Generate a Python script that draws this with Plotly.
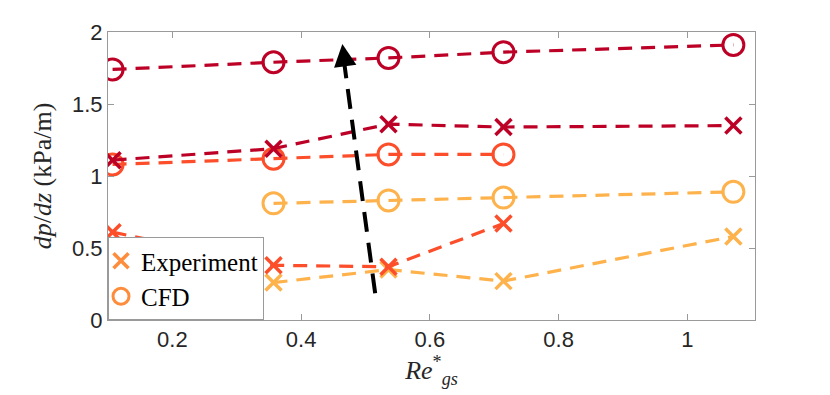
import plotly.graph_objects as go

# Re*_gs values where pressure gradient was measured / computed
re_gs = [0.1071, 0.3571, 0.5357, 0.7143, 1.0714]

# dark red set
exp_dark = [1.11, 1.19, 1.36, 1.34, 1.35]
cfd_dark = [1.74, 1.79, 1.82, 1.86, 1.91]

# orange-red set (no point at the highest Re)
exp_mid = [0.61, 0.38, 0.37, 0.67, None]
cfd_mid = [1.08, 1.12, 1.15, 1.15, None]

# light orange set (no point at the lowest Re)
exp_light = [None, 0.26, 0.35, 0.27, 0.58]
cfd_light = [None, 0.81, 0.83, 0.85, 0.89]

y_ticks = [0, 0.5, 1, 1.5, 2]
y_tick_labels = ['0', '0.5', '1', '1.5', '2']
x_ticks = [0.2, 0.4, 0.6, 0.8, 1.0]
x_tick_labels = ['0.2', '0.4', '0.6', '0.8', '1']

# trend arrow (tail -> tip)
arrow_tail = (0.515, 0.186)
arrow_tip = (0.464, 1.917)

DARK = '#BD0026'
MID = '#FC4E2A'
LIGHT = '#FEB24C'
LEGEND_C = '#FD8D3C'
DASH = '14px,9px'
SERIF = 'Liberation Serif, Times New Roman, serif'

fig = go.Figure()


def add_pair(exp, cfd, color):
    fig.add_trace(go.Scatter(
        x=re_gs, y=exp, mode='lines+markers', showlegend=False,
        line=dict(color=color, width=3.2, dash=DASH),
        marker=dict(symbol='x-thin-open', size=16, color=color,
                    line=dict(color=color, width=3.5)),
        connectgaps=False))
    fig.add_trace(go.Scatter(
        x=re_gs, y=cfd, mode='lines+markers', showlegend=False,
        line=dict(color=color, width=3.2, dash=DASH),
        marker=dict(symbol='circle-open', size=21, color=color,
                    line=dict(color=color, width=3)),
        connectgaps=False))


add_pair(exp_light, cfd_light, LIGHT)
add_pair(exp_mid, cfd_mid, MID)
add_pair(exp_dark, cfd_dark, DARK)

# legend entries
fig.add_trace(go.Scatter(
    x=[None], y=[None], mode='markers', name='Experiment',
    marker=dict(symbol='x-thin-open', size=15, color=LEGEND_C,
                line=dict(color=LEGEND_C, width=3.5))))
fig.add_trace(go.Scatter(
    x=[None], y=[None], mode='markers', name='CFD',
    marker=dict(symbol='circle-open', size=19, color=LEGEND_C,
                line=dict(color=LEGEND_C, width=3))))

# dashed arrow shaft
fig.add_shape(type='line', xref='x', yref='y',
              x0=arrow_tail[0], y0=arrow_tail[1],
              x1=arrow_tip[0] + 0.002, y1=arrow_tip[1] - 0.1,
              line=dict(color='black', width=4, dash='20px,11px'))
# arrow head
fig.add_annotation(x=arrow_tip[0], y=arrow_tip[1], xref='x', yref='y',
                   ax=2.6, ay=20, text='', showarrow=True,
                   arrowhead=2, arrowsize=1.5, arrowwidth=3,
                   arrowcolor='black', standoff=0)

axis_common = dict(
    showgrid=False, zeroline=False, showline=True, linecolor='#9a9a9a',
    linewidth=1, mirror='allticks', ticks='inside', ticklen=6,
    tickcolor='#9a9a9a', tickfont=dict(family='Liberation Sans, Arial',
                                       size=22, color='#262626'))

fig.update_xaxes(range=[0.1, 1.105], tickvals=x_ticks, ticktext=x_tick_labels,
                 title=dict(text='<i>Re</i><sup>*</sup><sub><i>gs</i></sub>',
                            font=dict(family=SERIF, size=26, color='#262626'),
                            standoff=8),
                 **axis_common)
fig.update_yaxes(range=[0, 2], tickvals=y_ticks, ticktext=y_tick_labels,
                 title=dict(text='<i>dp</i>/<i>dz</i> (kPa/m)',
                            font=dict(family=SERIF, size=26, color='#262626'),
                            standoff=12),
                 **axis_common)

# the page body has an 8px margin, so shift the plot area back by that
fig.update_layout(
    width=830, height=395,
    margin=dict(l=100, r=83, t=21, b=83),
    plot_bgcolor='white', paper_bgcolor='white',
    hovermode=False,
    legend=dict(x=0, y=0, xanchor='left', yanchor='bottom',
                bgcolor='white', bordercolor='#9a9a9a', borderwidth=1,
                font=dict(family=SERIF, size=25, color='black'),
                itemwidth=30, tracegroupgap=0, indentation=-8),
)

fig.write_html("out.html")
